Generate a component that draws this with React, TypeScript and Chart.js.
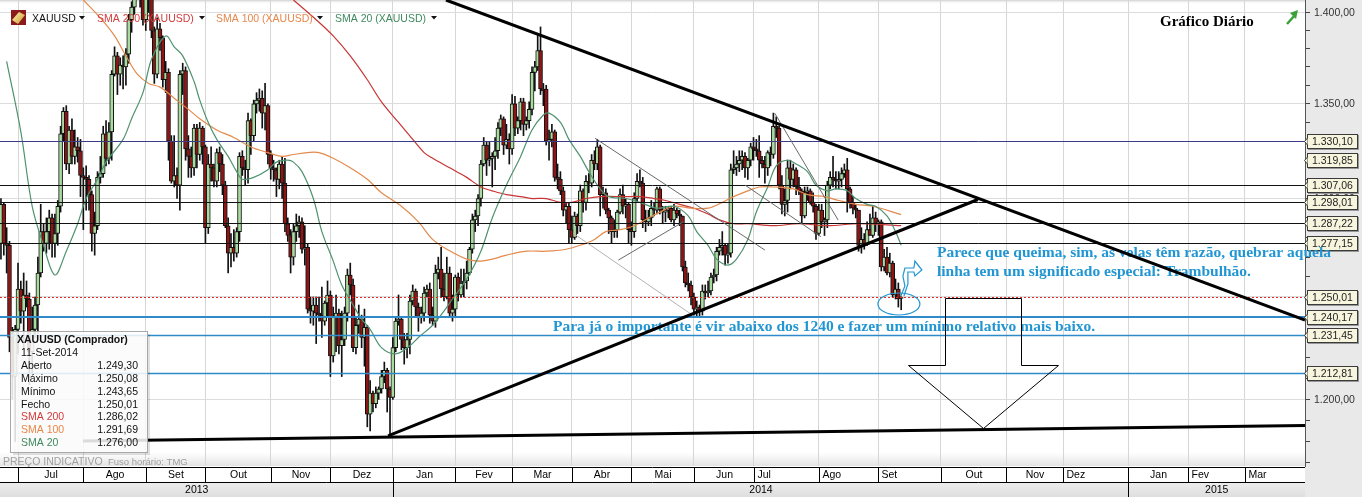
import React, { useEffect, useRef } from 'react';
import { Chart, registerables } from 'chart.js';

Chart.register(...registerables);

// ---------------- DATA ----------------
// Daily XAUUSD candles. Trading-day index 0 = 1 Jul 2013; first candle = 21 Jun 2013.
const FIRST_INDEX = -6;

const opens = [
  1277, 1297, 1277, 1276, 1230, 1211,
  1234, 1254, 1243, 1251, 1249, 1223, 1234, 1246, 1262, 1283, 1277, 1283, 1290, 1277, 1282, 1296, 1334, 1346, 1318, 1336, 1322, 1327, 1325,
  1312, 1311, 1310, 1302, 1282, 1286, 1311, 1313, 1334, 1321, 1335, 1366, 1376, 1366, 1371, 1370, 1377, 1396, 1403, 1420, 1418, 1410,
  1396, 1412, 1413, 1390, 1366, 1391, 1386, 1363, 1367, 1330, 1309, 1312, 1307, 1366, 1368, 1326, 1322, 1316, 1337, 1323, 1337,
  1327, 1285, 1318, 1316, 1309, 1324, 1318, 1307, 1286, 1272, 1275, 1272, 1283, 1322, 1316, 1315, 1341, 1333, 1350, 1352, 1353, 1345, 1349,
  1323, 1316, 1315, 1310, 1318, 1308, 1287, 1281, 1270, 1283, 1286, 1288, 1274, 1275, 1244, 1243, 1246, 1242, 1241, 1238, 1247,
  1251, 1221, 1240, 1242, 1226, 1229, 1242, 1261, 1256, 1225, 1236, 1239, 1230, 1235, 1193, 1203, 1198, 1203, 1205, 1211, 1214, 1205,
  1201, 1225, 1238, 1239, 1229, 1225, 1229, 1248, 1253, 1245, 1240, 1242, 1252, 1254, 1241, 1238, 1262, 1264, 1254, 1250, 1262, 1242,
  1244, 1260, 1251, 1257, 1258, 1262, 1274, 1289, 1291, 1300, 1318, 1328, 1320, 1321, 1322, 1325, 1337, 1342, 1328, 1331,
  1326, 1350, 1337, 1341, 1351, 1339, 1341, 1347, 1367, 1370, 1379, 1358, 1358, 1330, 1331, 1335, 1311, 1310, 1304, 1294, 1296,
  1284, 1280, 1291, 1286, 1304, 1298, 1309, 1308, 1320, 1318, 1327, 1302, 1303, 1294, 1290, 1283, 1284, 1293, 1302, 1296, 1297,
  1284, 1283, 1300, 1309, 1308, 1289, 1288, 1290, 1295, 1294, 1305, 1294, 1293, 1294, 1295, 1289, 1294, 1292, 1291, 1265, 1257, 1256,
  1250, 1244, 1245, 1243, 1253, 1252, 1253, 1260, 1261, 1273, 1275, 1276, 1271, 1272, 1315, 1316, 1318, 1320, 1322, 1316, 1320,
  1327, 1326, 1325, 1320, 1318, 1316, 1324, 1323, 1338, 1337, 1307, 1297, 1299, 1316, 1310, 1315, 1306, 1304, 1291, 1303, 1304, 1298, 1296,
  1282, 1294, 1288, 1289, 1307, 1311, 1310, 1309, 1310, 1313, 1315, 1305, 1298, 1295, 1294, 1276, 1279, 1277, 1284, 1281, 1290,
  1287, 1288, 1265, 1270, 1262, 1267, 1251, 1254, 1249.3,
];

const highs = [
  1300, 1298, 1285, 1278, 1235, 1236,
  1267, 1258, 1262, 1258, 1252, 1245, 1250, 1270, 1297, 1287, 1290, 1294, 1292, 1292, 1299, 1338, 1348, 1349, 1338, 1342, 1336, 1332, 1331,
  1316, 1317, 1312, 1304, 1293, 1314, 1322, 1338, 1341, 1340, 1368, 1381, 1378, 1375, 1376, 1380, 1399, 1406, 1434, 1434, 1421, 1417,
  1414, 1421, 1415, 1392, 1397, 1394, 1387, 1373, 1369, 1333, 1333, 1316, 1368, 1372, 1370, 1333, 1327, 1339, 1339, 1340, 1338,
  1328, 1323, 1327, 1318, 1326, 1327, 1323, 1309, 1290, 1282, 1284, 1285, 1324, 1325, 1320, 1345, 1342, 1352, 1356, 1358, 1357, 1361, 1350,
  1325, 1320, 1316, 1320, 1322, 1321, 1290, 1284, 1287, 1292, 1291, 1290, 1286, 1277, 1250, 1250, 1250, 1250, 1255, 1248, 1258,
  1253, 1245, 1251, 1244, 1243, 1245, 1264, 1267, 1259, 1240, 1246, 1241, 1244, 1236, 1209, 1204, 1206, 1206, 1214, 1218, 1215, 1206,
  1230, 1240, 1251, 1240, 1232, 1232, 1251, 1256, 1254, 1247, 1245, 1255, 1256, 1257, 1245, 1266, 1270, 1275, 1262, 1270, 1265, 1251,
  1261, 1262, 1264, 1264, 1268, 1275, 1292, 1294, 1302, 1320, 1332, 1330, 1330, 1324, 1332, 1340, 1344, 1343, 1339, 1334,
  1355, 1354, 1343, 1353, 1353, 1343, 1351, 1370, 1373, 1388, 1392, 1361, 1360, 1336, 1339, 1336, 1318, 1314, 1306, 1298, 1298,
  1291, 1293, 1292, 1307, 1305, 1312, 1313, 1323, 1325, 1331, 1328, 1306, 1305, 1295, 1291, 1289, 1294, 1305, 1307, 1300, 1298,
  1288, 1303, 1313, 1315, 1311, 1294, 1294, 1299, 1298, 1306, 1306, 1296, 1296, 1296, 1296, 1297, 1295, 1294, 1291, 1268, 1262, 1258,
  1252, 1248, 1246, 1256, 1256, 1258, 1262, 1264, 1275, 1279, 1283, 1277, 1277, 1318, 1325, 1322, 1325, 1325, 1324, 1321, 1329,
  1332, 1331, 1333, 1322, 1322, 1325, 1327, 1345, 1343, 1338, 1312, 1305, 1320, 1320, 1318, 1316, 1311, 1305, 1306, 1306, 1305, 1303, 1297,
  1297, 1297, 1290, 1309, 1314, 1322, 1314, 1314, 1316, 1318, 1321, 1306, 1301, 1297, 1294, 1285, 1282, 1288, 1292, 1296, 1293,
  1289, 1289, 1274, 1275, 1272, 1268, 1259, 1257, 1250.08,
];

const lows = [
  1269, 1271, 1262, 1223, 1200, 1180,
  1222, 1237, 1224, 1245, 1207, 1212, 1230, 1232, 1260, 1273, 1272, 1274, 1270, 1270, 1276, 1293, 1330, 1315, 1313, 1318, 1318, 1319, 1301,
  1284, 1294, 1294, 1273, 1271, 1284, 1308, 1311, 1317, 1318, 1320, 1365, 1355, 1360, 1358, 1360, 1372, 1389, 1399, 1408, 1403, 1393,
  1390, 1400, 1386, 1361, 1364, 1379, 1359, 1356, 1320, 1308, 1306, 1300, 1294, 1355, 1320, 1311, 1311, 1312, 1316, 1320, 1318,
  1277, 1282, 1309, 1306, 1306, 1314, 1302, 1285, 1262, 1265, 1268, 1270, 1278, 1312, 1307, 1308, 1323, 1330, 1345, 1346, 1337, 1336, 1318,
  1310, 1309, 1301, 1305, 1300, 1283, 1278, 1262, 1266, 1278, 1280, 1272, 1266, 1242, 1237, 1236, 1227, 1238, 1230, 1236, 1240,
  1211, 1218, 1223, 1222, 1211, 1226, 1238, 1251, 1223, 1222, 1232, 1225, 1216, 1187, 1185, 1194, 1196, 1200, 1203, 1208, 1194, 1182,
  1200, 1223, 1236, 1224, 1217, 1220, 1222, 1246, 1240, 1233, 1237, 1238, 1250, 1237, 1236, 1235, 1259, 1250, 1248, 1249, 1240, 1238,
  1240, 1248, 1250, 1250, 1254, 1261, 1272, 1283, 1286, 1296, 1317, 1312, 1317, 1306, 1315, 1321, 1333, 1323, 1326, 1318,
  1323, 1333, 1334, 1336, 1333, 1336, 1337, 1344, 1357, 1368, 1355, 1349, 1328, 1320, 1327, 1309, 1305, 1302, 1291, 1287, 1277,
  1277, 1279, 1282, 1283, 1293, 1294, 1303, 1306, 1315, 1315, 1291, 1295, 1292, 1282, 1277, 1280, 1280, 1292, 1292, 1290, 1277,
  1276, 1280, 1298, 1306, 1285, 1283, 1286, 1286, 1291, 1292, 1292, 1287, 1288, 1290, 1288, 1286, 1290, 1286, 1263, 1255, 1253, 1246,
  1241, 1240, 1240, 1241, 1249, 1250, 1251, 1257, 1258, 1271, 1271, 1266, 1267, 1270, 1313, 1312, 1314, 1315, 1311, 1310, 1317,
  1320, 1322, 1311, 1316, 1308, 1312, 1317, 1321, 1332, 1305, 1292, 1291, 1293, 1305, 1306, 1302, 1302, 1287, 1290, 1299, 1297, 1293, 1279,
  1281, 1285, 1281, 1285, 1305, 1306, 1305, 1305, 1306, 1311, 1293, 1295, 1292, 1290, 1273, 1272, 1274, 1276, 1281, 1280, 1283,
  1281, 1263, 1263, 1261, 1260, 1250, 1249, 1245, 1243.65,
];

const closes = [
  1297, 1277, 1276, 1230, 1211, 1234,
  1254, 1243, 1251, 1249, 1223, 1234, 1246, 1262, 1283, 1277, 1283, 1290, 1277, 1282, 1296, 1334, 1346, 1318, 1336, 1322, 1327, 1325, 1312,
  1311, 1310, 1302, 1282, 1286, 1311, 1313, 1334, 1321, 1335, 1366, 1376, 1366, 1371, 1370, 1377, 1396, 1403, 1420, 1418, 1410, 1396,
  1412, 1413, 1390, 1366, 1391, 1386, 1363, 1367, 1330, 1309, 1312, 1307, 1366, 1368, 1326, 1322, 1316, 1337, 1323, 1337, 1327,
  1285, 1318, 1316, 1309, 1324, 1318, 1307, 1286, 1272, 1275, 1272, 1283, 1322, 1316, 1315, 1341, 1333, 1350, 1352, 1353, 1345, 1349, 1323,
  1316, 1315, 1310, 1318, 1308, 1287, 1281, 1270, 1283, 1286, 1288, 1274, 1275, 1244, 1243, 1246, 1242, 1241, 1238, 1247, 1251,
  1221, 1240, 1242, 1226, 1229, 1242, 1261, 1256, 1225, 1236, 1239, 1230, 1235, 1193, 1203, 1198, 1203, 1205, 1211, 1214, 1205, 1201,
  1225, 1238, 1239, 1229, 1225, 1229, 1248, 1253, 1245, 1240, 1242, 1252, 1254, 1241, 1238, 1262, 1264, 1254, 1250, 1262, 1242, 1244,
  1260, 1251, 1257, 1258, 1262, 1274, 1289, 1291, 1300, 1318, 1328, 1320, 1321, 1322, 1325, 1337, 1342, 1328, 1331, 1326,
  1350, 1337, 1341, 1351, 1339, 1341, 1347, 1367, 1370, 1379, 1358, 1357, 1330, 1331, 1335, 1311, 1310, 1304, 1294, 1296, 1284,
  1280, 1291, 1286, 1304, 1298, 1309, 1308, 1320, 1318, 1327, 1302, 1303, 1294, 1290, 1283, 1284, 1293, 1302, 1296, 1297, 1284,
  1283, 1300, 1309, 1308, 1289, 1288, 1290, 1295, 1294, 1305, 1294, 1293, 1294, 1295, 1289, 1294, 1292, 1291, 1265, 1257, 1256, 1250,
  1244, 1245, 1243, 1253, 1252, 1253, 1260, 1261, 1273, 1275, 1276, 1271, 1272, 1315, 1316, 1318, 1320, 1322, 1316, 1320, 1327,
  1326, 1325, 1320, 1318, 1316, 1324, 1323, 1338, 1337, 1307, 1297, 1299, 1316, 1310, 1315, 1306, 1304, 1291, 1303, 1304, 1298, 1296, 1282,
  1294, 1288, 1289, 1307, 1311, 1310, 1309, 1310, 1313, 1315, 1305, 1298, 1295, 1294, 1276, 1279, 1277, 1284, 1281, 1290, 1287,
  1288, 1265, 1270, 1262, 1267, 1251, 1254, 1249, 1250.01,
];

// Moving averages: [trading-day index, value]
const sma20Points = [
  [-4, 1373], [1, 1335], [5, 1296], [9, 1276], [13, 1261], [17, 1273], [21, 1287], [24, 1300], [28, 1310], [31, 1319],
  [37, 1331], [40, 1342], [44, 1356], [47, 1374], [52, 1387], [55, 1381], [58, 1376], [62, 1362], [64, 1352], [67, 1340],
  [70, 1331], [74, 1322], [77, 1314], [79, 1310], [83, 1311], [88, 1315], [91, 1319], [95, 1320], [97, 1319], [100, 1314],
  [104, 1300], [107, 1283], [111, 1268], [114, 1256], [118, 1246], [121, 1239], [124, 1234], [128, 1225], [133, 1222], [138, 1226],
  [141, 1230], [146, 1236], [150, 1243], [153, 1249], [158, 1259], [163, 1273], [167, 1290], [172, 1307], [177, 1322], [181, 1336],
  [185, 1344], [187, 1345], [191, 1340], [194, 1331], [198, 1322], [201, 1314], [205, 1305], [208, 1301], [214, 1300], [219, 1298],
  [225, 1295], [231, 1296], [236, 1291], [239, 1283], [243, 1276], [246, 1269], [250, 1266], [253, 1269], [257, 1279], [260, 1293],
  [264, 1306], [267, 1317], [271, 1320], [274, 1318], [278, 1314], [281, 1307], [285, 1304], [288, 1305], [292, 1304], [295, 1300],
  [299, 1297], [302, 1296], [306, 1291], [309, 1283], [311, 1276],
];
const sma100Points = [
  [23, 1407], [29, 1397], [34, 1387], [38, 1376], [42, 1366], [46, 1361], [50, 1359], [55, 1353], [60, 1347], [64, 1342],
  [70, 1336], [76, 1332], [82, 1327], [88, 1324], [93, 1322], [97, 1323], [102, 1324], [106, 1324], [111, 1321], [117, 1316],
  [123, 1310], [128, 1303], [135, 1296], [141, 1288], [146, 1279], [151, 1274], [158, 1269], [163, 1268], [167, 1269], [172, 1271],
  [179, 1273], [186, 1273], [193, 1274], [198, 1276], [203, 1279], [207, 1283], [212, 1284], [217, 1286], [222, 1290], [226, 1293],
  [231, 1296], [237, 1295], [243, 1295], [248, 1298], [252, 1301], [257, 1304], [261, 1306], [266, 1306], [273, 1305], [278, 1302],
  [284, 1301], [289, 1299], [295, 1297], [301, 1296], [311, 1291.69],
];
const sma200Points = [
  [97, 1407], [105, 1396], [111, 1387], [117, 1376], [123, 1363], [128, 1351], [134, 1340], [139, 1331], [143, 1324], [146, 1321],
  [152, 1316], [158, 1311], [163, 1306], [167, 1304], [172, 1302], [177, 1301], [181, 1300], [186, 1300], [191, 1298], [195, 1298],
  [200, 1300], [205, 1301], [214, 1301], [219, 1301], [224, 1300], [228, 1299], [233, 1297], [238, 1295], [243, 1292], [247, 1289],
  [252, 1287], [257, 1287], [266, 1286], [275, 1287], [285, 1286], [296, 1287], [311, 1286.02],
];

// Axis data
const monthLabels = ['Jul', 'Ago', 'Set', 'Out', 'Nov', 'Dez', 'Jan', 'Fev', 'Mar', 'Abr', 'Mai', 'Jun', 'Jul', 'Ago', 'Set', 'Out', 'Nov', 'Dez', 'Jan', 'Fev', 'Mar'];
const monthStarts = [0, 23, 45, 66, 89, 110, 132, 154, 174, 195, 216, 238, 259, 282, 303, 325, 348, 368, 391, 412, 432];
const yearLabels = ['2013', '2014', '2015'];
const yearStarts = [132, 391];
const yTicks = [1170, 1180, 1190, 1200, 1210, 1220, 1230, 1240, 1250, 1260, 1270, 1280, 1290, 1300, 1310, 1320, 1330, 1340, 1350, 1360, 1370, 1380, 1390, 1400];
const yLabelValues = [1400, 1350, 1300, 1250, 1200];

// Horizontal levels and price tags
const levelValues = [1330.10, 1307.06, 1298.01, 1287.22, 1277.15, 1250.01, 1240.17, 1231.45, 1212.81];
const priceTags = [1330.10, 1319.85, 1307.06, 1298.01, 1287.22, 1277.15, 1250.01, 1240.17, 1231.45, 1212.81];

// Trend lines: [index, value] endpoints
const thickFrom = [[150.7, 1407], [130.3, 1182.7], [22.9, 1180.3]];
const thickTo = [[453.2, 1238.6], [338, 1299.5], [453.2, 1187.6]];
const thinFrom = [[203.2, 1331.6], [195.5, 1282.1], [211.4, 1268.5], [266.5, 1344.9], [256, 1307.0]];
const thinTo = [[263.0, 1273.6], [236.6, 1241.9], [234.3, 1288.0], [288.8, 1288.9], [282.7, 1280.4]];

// Annotations
const noteTexts = [
  'Parece que queima, sim, as velas têm razão, quebrar aquela',
  'linha tem um significado especial: Trambulhão.',
  'Para já o importante é vir abaixo dos 1240 e fazer um mínimo relativo mais baixo.',
];
const noteIdx = [323.6, 323.6, 188.4];
const noteVal = [1270.2, 1260.5, 1233.2];
const bigArrow = [[326.4, 1249.5], [353.2, 1249.5], [353.2, 1216.6], [366.2, 1216.6], [339.8, 1186.4], [313.4, 1216.6], [326.4, 1216.6]];
const circleAt = [310.2, 1246.5];

// Info box
const infoTitle = 'XAUUSD (Comprador)';
const infoDate = '11-Set-2014';
const infoLabels = ['Aberto', 'Máximo', 'Mínimo', 'Fecho', 'SMA 200', 'SMA 100', 'SMA 20'];
const infoValues = [1249.30, 1250.08, 1243.65, 1250.01, 1286.02, 1291.69, 1276.00];

const legendLabels = ['XAUUSD', 'SMA 200 (XAUUSD)', 'SMA 100 (XAUUSD)', 'SMA 20 (XAUUSD)'];

// ---------------- STYLE ----------------
const X_MIN = -6.34;
const X_MAX = 453.2;
const Y_MIN = 1168.6;
const Y_MAX = 1407;
const UI = '"Liberation Sans", Arial, sans-serif';
const SERIF = '"Liberation Serif", "Times New Roman", serif';
const C_SMA200 = '#c93434';
const C_SMA100 = '#e48a4c';
const C_SMA20 = '#4f9270';
const C_NOTE = '#2196d3';

function fmt(v: number): string {
  const parts = v.toFixed(2).split('.');
  return parts[0].replace(/\B(?=(\d{3})+(?!\d))/g, '.') + ',' + parts[1];
}

function seg(ctx: CanvasRenderingContext2D, x1: number, y1: number, x2: number, y2: number) {
  ctx.beginPath();
  ctx.moveTo(x1, y1);
  ctx.lineTo(x2, y2);
  ctx.stroke();
}

const levelStyles = [
  { c: '#3b3b86', w: 1, d: [] as number[] },
  { c: '#111', w: 1, d: [] as number[] },
  { c: '#111', w: 1, d: [] as number[] },
  { c: '#111', w: 1, d: [] as number[] },
  { c: '#111', w: 1, d: [] as number[] },
  { c: '#e02828', w: 1, d: [2, 2] },
  { c: '#2e8ac8', w: 2, d: [] as number[] },
  { c: '#2e8ac8', w: 1.5, d: [] as number[] },
  { c: '#2e8ac8', w: 1.5, d: [] as number[] },
];

const decor = {
  id: 'decor',
  beforeDraw(chart: any) {
    const { ctx, width, height, chartArea: a } = chart;
    ctx.save();
    ctx.fillStyle = '#ffffff';
    ctx.fillRect(0, 0, width, height);
    ctx.fillStyle = '#e9e9e9';
    ctx.fillRect(a.right, 0, width - a.right, height);
    const tg = ctx.createLinearGradient(0, 0, 0, 4);
    tg.addColorStop(0, '#cfcfcf');
    tg.addColorStop(1, 'rgba(255,255,255,0)');
    ctx.fillStyle = tg;
    ctx.fillRect(a.left, 0, a.right - a.left, 4);
    const bg = ctx.createLinearGradient(0, a.bottom - 14, 0, a.bottom);
    bg.addColorStop(0, 'rgba(232,232,232,0)');
    bg.addColorStop(1, '#e3e3e3');
    ctx.fillStyle = bg;
    ctx.fillRect(a.left, a.bottom - 14, a.right - a.left, 14);
    ctx.restore();
  },
  afterDatasetsDraw(chart: any) {
    const { ctx, chartArea: a } = chart;
    const ys = chart.scales.y;
    ctx.save();
    ctx.beginPath();
    ctx.rect(a.left, a.top, a.right - a.left, a.bottom - a.top);
    ctx.clip();
    levelValues.forEach((v, k) => {
      const s = levelStyles[k];
      const y = Math.round(ys.getPixelForValue(v)) + (s.w === 2 ? 0 : 0.5);
      ctx.strokeStyle = s.c;
      ctx.lineWidth = s.w;
      ctx.setLineDash(s.d);
      seg(ctx, a.left, y, a.right, y);
    });
    ctx.setLineDash([]);
    ctx.restore();
  },
  afterDraw(chart: any) {
    const { ctx, chartArea: a, height } = chart;
    const xs = chart.scales.x;
    const ys = chart.scales.y;
    const X = (i: number) => xs.getPixelForValue(i);
    const Y = (v: number) => ys.getPixelForValue(v);
    ctx.save();

    // right axis labels
    ctx.font = '10.5px ' + UI;
    ctx.fillStyle = '#333';
    ctx.textBaseline = 'middle';
    ctx.textAlign = 'left';
    yLabelValues.forEach((v) => ctx.fillText(fmt(v), a.right + 9, Y(v) + 0.5));

    // price tags
    const bx = a.right + 2;
    const bw = 51;
    priceTags.forEach((v) => {
      const y = Math.round(Y(v));
      ctx.fillStyle = 'rgba(0,0,0,0.35)';
      ctx.fillRect(bx + 1, y - 6, bw, 15);
      ctx.fillStyle = '#f7f5de';
      ctx.fillRect(bx, y - 7, bw, 15);
      ctx.strokeStyle = '#3a3a3a';
      ctx.lineWidth = 1;
      ctx.strokeRect(bx + 0.5, y - 6.5, bw - 1, 14);
      ctx.beginPath();
      ctx.moveTo(bx + 0.5, y - 3);
      ctx.lineTo(a.right - 0.5, y + 0.5);
      ctx.lineTo(bx + 0.5, y + 4);
      ctx.fillStyle = '#f7f5de';
      ctx.fill();
      ctx.stroke();
      ctx.fillStyle = '#222';
      ctx.font = '10.5px ' + UI;
      ctx.fillText(fmt(v), bx + 5, y + 1);
    });

    // annotation texts
    ctx.font = 'bold 15.5px ' + SERIF;
    ctx.fillStyle = C_NOTE;
    ctx.textBaseline = 'alphabetic';
    noteTexts.forEach((t, k) => ctx.fillText(t, X(noteIdx[k]), Y(noteVal[k])));

    // trend lines (clipped to plot)
    ctx.save();
    ctx.beginPath();
    ctx.rect(a.left, a.top, a.right - a.left, a.bottom - a.top);
    ctx.clip();
    thinFrom.forEach((p, k) => {
      const q = thinTo[k];
      ctx.strokeStyle = k === 1 ? '#b4b4b4' : '#6a6a6a';
      ctx.lineWidth = 1;
      seg(ctx, X(p[0]), Y(p[1]), X(q[0]), Y(q[1]));
    });
    thickFrom.forEach((p, k) => {
      const q = thickTo[k];
      ctx.strokeStyle = '#000';
      ctx.lineWidth = 3;
      seg(ctx, X(p[0]), Y(p[1]), X(q[0]), Y(q[1]));
    });
    // big outlined arrow
    ctx.beginPath();
    bigArrow.forEach((p, k) => {
      const px = Math.round(X(p[0])) + 0.5;
      const py = Math.round(Y(p[1])) + 0.5;
      if (k === 0) ctx.moveTo(px, py);
      else ctx.lineTo(px, py);
    });
    ctx.closePath();
    ctx.strokeStyle = '#000';
    ctx.lineWidth = 1;
    ctx.stroke();
    // blue ellipse and doodle
    const cx = X(circleAt[0]);
    const cy = Y(circleAt[1]);
    ctx.strokeStyle = C_NOTE;
    ctx.lineWidth = 1.2;
    ctx.beginPath();
    ctx.ellipse(cx, cy, 21, 11, 0, 0, Math.PI * 2);
    ctx.stroke();
    const doodle = [[2, -8], [6, -18], [4, -28], [6, -36], [15, -36], [16, -43], [23, -34], [16, -28], [15, -32], [9, -32], [9, -20], [5, -8]];
    ctx.beginPath();
    doodle.forEach((d, k) => {
      if (k === 0) ctx.moveTo(cx + d[0], cy + d[1]);
      else ctx.lineTo(cx + d[0], cy + d[1]);
    });
    ctx.stroke();
    ctx.restore();

    // legend
    ctx.fillStyle = '#8b1a1a';
    ctx.fillRect(11, 10, 15, 15);
    const gg = ctx.createLinearGradient(12, 12, 25, 24);
    gg.addColorStop(0, '#fff4b8');
    gg.addColorStop(1, '#c8962a');
    ctx.fillStyle = gg;
    ctx.beginPath();
    ctx.moveTo(12, 20);
    ctx.lineTo(19, 12);
    ctx.lineTo(25, 15);
    ctx.lineTo(18, 24);
    ctx.closePath();
    ctx.fill();
    const legX = [32, 97, 216, 335];
    const triX = [79, 199, 317, 431];
    const legC = ['#111', '#d33b3b', '#e8874a', '#3f8a5e'];
    ctx.font = '10.5px ' + UI;
    ctx.textBaseline = 'alphabetic';
    legendLabels.forEach((t, k) => {
      ctx.fillStyle = legC[k];
      ctx.fillText(t, legX[k], 22);
      ctx.fillStyle = '#111';
      ctx.beginPath();
      ctx.moveTo(triX[k], 16);
      ctx.lineTo(triX[k] + 6, 16);
      ctx.lineTo(triX[k] + 3, 19.5);
      ctx.closePath();
      ctx.fill();
    });

    // title + icon
    ctx.font = 'bold 15px ' + SERIF;
    ctx.fillStyle = '#000';
    ctx.fillText('Gráfico Diário', 1160, 26);
    ctx.strokeStyle = '#3aa03a';
    ctx.lineWidth = 2.5;
    seg(ctx, 1287, 24, 1295, 15);
    ctx.fillStyle = '#3aa03a';
    ctx.beginPath();
    ctx.moveTo(1298, 10);
    ctx.lineTo(1290, 13);
    ctx.lineTo(1296, 19);
    ctx.closePath();
    ctx.fill();

    // info box
    const ix = 10;
    const iy = 331;
    const iw = 137;
    const ih = 121;
    ctx.fillStyle = 'rgba(0,0,0,0.12)';
    ctx.fillRect(ix + 3, iy + 3, iw, ih);
    ctx.fillStyle = 'rgba(255,255,255,0.86)';
    ctx.fillRect(ix, iy, iw, ih);
    ctx.strokeStyle = '#a8a8a8';
    ctx.lineWidth = 1;
    ctx.strokeRect(ix + 0.5, iy + 0.5, iw, ih);
    ctx.textBaseline = 'middle';
    ctx.font = 'bold 10.5px ' + UI;
    ctx.fillStyle = '#111';
    ctx.fillText(infoTitle, 17, 340);
    ctx.font = '10.5px ' + UI;
    ctx.fillText(infoDate, 21, 353);
    const infoC = ['#111', '#111', '#111', '#111', '#d33b3b', '#e8874a', '#3f8a5e'];
    infoLabels.forEach((t, k) => {
      const y = 366 + k * 12.9;
      ctx.fillStyle = infoC[k];
      ctx.textAlign = 'left';
      ctx.fillText(t, 21, y);
      ctx.fillStyle = '#111';
      ctx.textAlign = 'right';
      ctx.fillText(fmt(infoValues[k]), 138, y);
    });
    ctx.textAlign = 'left';

    // footer text
    ctx.textBaseline = 'alphabetic';
    ctx.fillStyle = '#a0a0a0';
    ctx.font = '10.5px ' + UI;
    ctx.fillText('PREÇO INDICATIVO', 3, a.bottom - 1);
    ctx.font = '9.5px ' + UI;
    ctx.fillText('Fuso horário: TMG', 108, a.bottom - 1);

    // month / year axis
    const top = a.bottom + 1;
    ctx.fillStyle = '#ffffff';
    ctx.fillRect(0, top, a.right, 15);
    const yg = ctx.createLinearGradient(0, top + 15, 0, height);
    yg.addColorStop(0, '#eeeeee');
    yg.addColorStop(1, '#dedede');
    ctx.fillStyle = yg;
    ctx.fillRect(0, top + 16, a.right, height - top - 16);
    ctx.strokeStyle = '#000';
    ctx.lineWidth = 1;
    seg(ctx, 0, top + 0.5, a.right, top + 0.5);
    seg(ctx, 0, top + 15.5, a.right, top + 15.5);
    ctx.font = '10.5px ' + UI;
    ctx.fillStyle = '#000';
    ctx.textBaseline = 'middle';
    const leftAligned = new Set([12, 13, 14, 17, 19, 20]);
    monthStarts.forEach((m, k) => {
      const x0 = Math.round(X(m)) + 0.5;
      const x1 = k + 1 < monthStarts.length ? Math.round(X(monthStarts[k + 1])) + 0.5 : a.right;
      seg(ctx, x0, top, x0, top + 15);
      if (leftAligned.has(k)) {
        ctx.textAlign = 'left';
        ctx.fillText(monthLabels[k], x0 + 3, top + 8.5);
      } else {
        ctx.textAlign = 'center';
        ctx.fillText(monthLabels[k], (x0 + x1) / 2, top + 8.5);
      }
    });
    const bounds = [a.left, ...yearStarts.map((v) => Math.round(X(v)) + 0.5), a.right];
    yearStarts.forEach((v) => {
      const x = Math.round(X(v)) + 0.5;
      seg(ctx, x, top + 15, x, height);
    });
    ctx.textAlign = 'center';
    yearLabels.forEach((t, k) => ctx.fillText(t, (bounds[k] + bounds[k + 1]) / 2, top + 23.5));
    ctx.restore();
  },
};

export default function App() {
  const ref = useRef<HTMLCanvasElement>(null);
  useEffect(() => {
    const canvas = ref.current;
    if (!canvas) return;
    const bodyData = opens.map((o, k) => ({ x: FIRST_INDEX + k, y: [o, closes[k]] }));
    const wickData = opens.map((_, k) => ({ x: FIRST_INDEX + k, y: [lows[k], highs[k]] }));
    const bodyColors = opens.map((o, k) => (closes[k] >= o ? '#a9dba1' : '#8e1515'));
    const toXY = (pts: number[][]) => pts.map((p) => ({ x: p[0], y: p[1] }));
    const chart = new Chart(canvas, {
      type: 'bar',
      data: {
        datasets: [
          { type: 'line', label: 'SMA 20', data: toXY(sma20Points), borderColor: C_SMA20, borderWidth: 1.2, pointRadius: 0, tension: 0.35, clip: 0 } as any,
          { type: 'line', label: 'SMA 100', data: toXY(sma100Points), borderColor: C_SMA100, borderWidth: 1.2, pointRadius: 0, tension: 0.35, clip: 0 } as any,
          { type: 'line', label: 'SMA 200', data: toXY(sma200Points), borderColor: C_SMA200, borderWidth: 1.2, pointRadius: 0, tension: 0.35, clip: 0 } as any,
          { type: 'bar', label: 'body', data: bodyData, backgroundColor: bodyColors, borderColor: '#111', borderWidth: 1, borderSkipped: false, barThickness: 4, stack: 'c', clip: 0 } as any,
          { type: 'bar', label: 'wick', data: wickData, backgroundColor: '#111', borderWidth: 0, barThickness: 1, stack: 'c', clip: 0 } as any,
        ],
      },
      options: {
        responsive: false,
        animation: false,
        devicePixelRatio: 1,
        events: [],
        layout: { padding: 0 },
        plugins: { legend: { display: false }, tooltip: { enabled: false }, title: { display: false } },
        scales: {
          x: {
            type: 'linear',
            position: 'bottom',
            min: X_MIN,
            max: X_MAX,
            offset: false,
            afterBuildTicks: (s: any) => { s.ticks = monthStarts.map((v) => ({ value: v })); },
            afterFit: (s: any) => { s.height = 31; },
            ticks: { display: false },
            grid: { color: '#d6d6d6', drawTicks: false, offset: false },
            border: { display: false },
          },
          y: {
            type: 'logarithmic',
            position: 'right',
            min: Y_MIN,
            max: Y_MAX,
            stacked: false,
            afterBuildTicks: (s: any) => { s.ticks = yTicks.map((v) => ({ value: v })); },
            afterFit: (s: any) => { s.width = 57; },
            ticks: { display: false },
            grid: {
              color: (c: any) => (c.tick && c.tick.value % 50 === 0 ? '#dcdcdc' : 'rgba(0,0,0,0)'),
              tickColor: '#444',
              tickLength: 5,
              drawTicks: true,
            },
            border: { display: true, color: '#555', width: 1 },
          },
        } as any,
      } as any,
      plugins: [decor],
    } as any);
    return () => chart.destroy();
  }, []);
  return (
    <div style={{ position: 'absolute', left: 0, top: 0, width: 1362, height: 497, background: '#fff' }}>
      <canvas ref={ref} width={1362} height={497} style={{ display: 'block', width: 1362, height: 497 }} />
    </div>
  );
}
